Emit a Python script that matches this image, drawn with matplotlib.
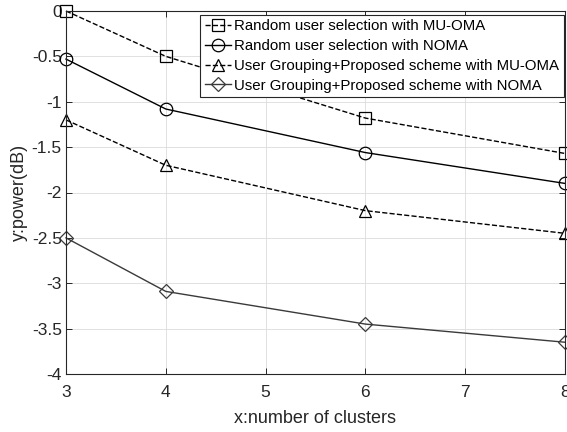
import matplotlib
matplotlib.use("Agg")
import matplotlib.pyplot as plt
from matplotlib.legend_handler import HandlerLine2D

plt.rcParams['font.family'] = ['Liberation Sans', 'DejaVu Sans']

x = [3, 4, 6, 8]
rand_oma = [0.0, -0.50, -1.18, -1.57]
rand_noma = [-0.53, -1.08, -1.56, -1.90]
group_oma = [-1.20, -1.70, -2.20, -2.45]
group_noma = [-2.50, -3.09, -3.45, -3.65]
labels = ["Random user selection with MU-OMA",
          "Random user selection with NOMA",
          "User Grouping+Proposed scheme with MU-OMA",
          "User Grouping+Proposed scheme with NOMA"]


class LeftMarker(HandlerLine2D):
    def get_xdata(self, legend, xdescent, ydescent, width, height, fontsize):
        xdata = [-xdescent, -xdescent + width]
        xdata_marker = [-xdescent]
        return xdata, xdata_marker


fig = plt.figure(figsize=(5.67, 4.32), dpi=100)
ax = fig.add_axes([66/567, 1-374/432, (565-66)/567, (374-11)/432])

ms = 8
l1, = ax.plot(x, rand_oma, color='black', ls='--', lw=1.0, marker='s', ms=ms, mfc='none', mew=0.9, label=labels[0], clip_on=False)
l2, = ax.plot(x, rand_noma, color='black', ls='-', lw=1.0, marker='o', ms=ms+1, mfc='none', mew=0.9, label=labels[1], clip_on=False)
l3, = ax.plot(x, group_oma, color='black', ls='--', lw=1.0, marker='^', ms=ms+1, mfc='none', mew=0.9, label=labels[2], clip_on=False)
l4, = ax.plot(x, group_noma, color='#3a3a3a', ls='-', lw=1.0, marker='D', ms=ms-1, mfc='none', mew=0.9, label=labels[3], clip_on=False)

ax.set_xlim(3, 8)
ax.set_ylim(-4, 0)
ax.set_xticks([3, 4, 5, 6, 7, 8])
ax.set_yticks([-4, -3.5, -3, -2.5, -2, -1.5, -1, -0.5, 0])
ax.set_yticklabels(['-4', '-3.5', '-3', '-2.5', '-2', '-1.5', '-1', '-0.5', '0'])
ax.grid(True, color='#dcdcdc', lw=0.6, ls='-')
ax.set_axisbelow(True)
ax.tick_params(direction='in', top=True, right=True, length=4, labelsize=12.5, colors='#262626', width=0.7)
ax.tick_params(axis='x', pad=8)
ax.tick_params(axis='y', pad=3)
for s in ax.spines.values():
    s.set_color('#262626')
    s.set_linewidth(0.8)

ax.set_xlabel('x:number of clusters', fontsize=13, color='#262626', labelpad=7)
ax.set_ylabel('y:power(dB)', fontsize=13, color='#262626', labelpad=3)

hm = {h: LeftMarker(numpoints=1) for h in (l1, l2, l3, l4)}
leg = ax.legend(loc='upper right', bbox_to_anchor=((564-66)/499, (374-15)/363),
                fontsize=10.8, frameon=True, fancybox=False,
                edgecolor='#262626', framealpha=1, handlelength=1.75,
                handletextpad=0.25, borderpad=0.3, labelspacing=0.38,
                borderaxespad=0.0, handler_map=hm)
leg.get_frame().set_linewidth(0.8)

fig.savefig('out.png', dpi=100)
